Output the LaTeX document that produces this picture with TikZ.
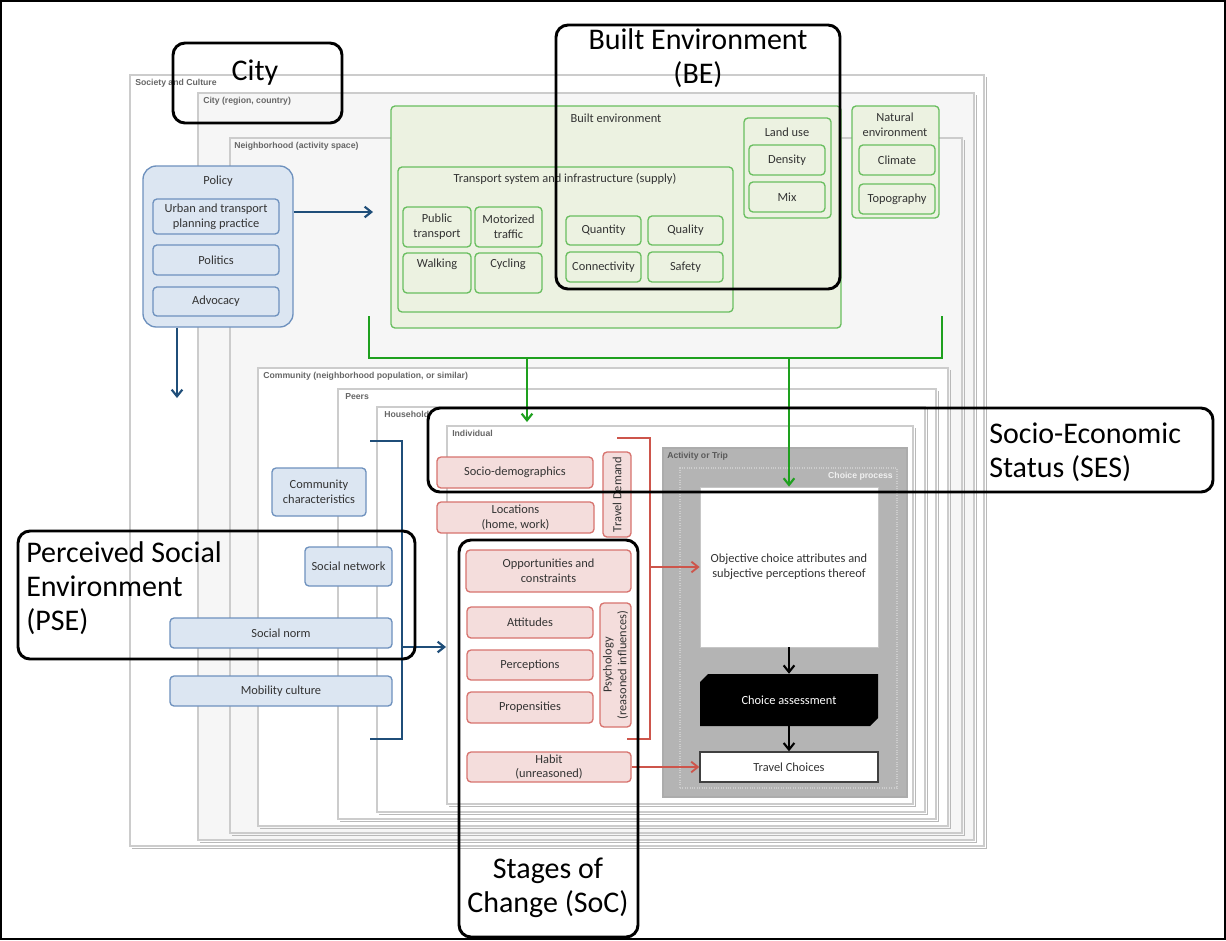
\documentclass[tikz,border=0pt]{standalone}
\usepackage{fontspec}
\setmainfont{Carlito}
\newfontfamily\lblfont{Liberation Sans}
\usetikzlibrary{arrows.meta,fit}
\definecolor{gborder}{RGB}{105,190,95}
\definecolor{gfill}{RGB}{236,242,225}
\definecolor{garrow}{RGB}{30,160,30}
\definecolor{bborder}{RGB}{110,145,190}
\definecolor{bfill}{RGB}{220,230,242}
\definecolor{barrowc}{RGB}{31,78,121}
\definecolor{rborder}{RGB}{215,115,110}
\definecolor{rfill}{RGB}{244,221,220}
\definecolor{rline}{RGB}{205,85,75}
\definecolor{actgray}{RGB}{180,180,180}
\definecolor{cpline}{RGB}{205,205,205}
\tikzset{
  frame/.style={draw=gray!40, line width=0.8pt, inner sep=0pt},
  fshadow/.style={draw=gray!55, line width=0.8pt},
  flabel/.style={font=\lblfont\bfseries\fontsize{6.5}{7.5}\selectfont, text=black!60, anchor=north west, inner sep=0pt},
  boxtext/.style={font=\fontsize{9.3}{11}\selectfont, text=black!80, align=center},
  gbox/.style={boxtext, draw=gborder, fill=gfill, line width=1pt, rounded corners=3pt, inner sep=0pt},
  bbox/.style={boxtext, draw=bborder, fill=bfill, line width=1pt, rounded corners=3pt, inner sep=0pt},
  rbox/.style={boxtext, draw=rborder, fill=rfill, line width=1pt, rounded corners=3pt, inner sep=0pt},
  plain/.style={boxtext, inner sep=0pt},
  annot/.style={draw=black, line width=2.2pt, rounded corners=9pt, inner sep=0pt},
  atext/.style={font=\fontsize{22.5}{25.5}\selectfont, inner sep=0pt},
  garr/.style={draw=garrow, line width=1.6pt},
  garrow/.style={garr, -{Straight Barb[length=5pt,width=8pt]}},
  blln/.style={draw=barrowc, line width=1.6pt},
  blarrow/.style={blln, -{Straight Barb[length=5pt,width=8pt]}},
  rdln/.style={draw=rline, line width=1.4pt},
  rdarrow/.style={rdln, -{Straight Barb[length=5pt,width=8pt]}},
  bkarrow/.style={draw=black, line width=1.6pt, -{Straight Barb[length=5pt,width=8pt]}},
}
\begin{document}
\begin{tikzpicture}[x=0.75pt,y=-0.75pt]
\useasboundingbox (0,0) rectangle (1226,940);
\draw[black, line width=0.8pt] (1,1) rectangle (1225,939);

% nested frames
\node[frame, fill=white, fit={(130,75)(984,846)}] (soc) {};
\draw[fshadow] ([shift={(2,3)}]soc.north east) |- ([shift={(3,2)}]soc.south west);
\node[flabel] (socL) at (135,79) {Society and Culture};
\node[frame, fill=gray!7, fit={(198,93)(974,840)}] (city) {};
\draw[fshadow] ([shift={(2,3)}]city.north east) |- ([shift={(3,2)}]city.south west);
\node[flabel] (cityL) at (203,97) {City (region, country)};
\node[frame, fill=gray!7, fit={(230,138)(962,833)}] (nbh) {};
\draw[fshadow] ([shift={(2,3)}]nbh.north east) |- ([shift={(3,2)}]nbh.south west);
\node[flabel] (nbhL) at (234,142) {Neighborhood (activity space)};
\node[frame, fill=white, fit={(258,368)(948,826)}] (com) {};
\draw[fshadow] ([shift={(2,3)}]com.north east) |- ([shift={(3,2)}]com.south west);
\node[flabel] (comL) at (263,372) {Community (neighborhood population, or similar)};
\node[frame, fill=white, fit={(338,389)(936,819)}] (peer) {};
\draw[fshadow] ([shift={(2,3)}]peer.north east) |- ([shift={(3,2)}]peer.south west);
\node[flabel] (peerL) at (345,393) {Peers};
\node[frame, fill=white, fit={(377,407)(925,812)}] (hh) {};
\draw[fshadow] ([shift={(2,3)}]hh.north east) |- ([shift={(3,2)}]hh.south west);
\node[flabel] (hhL) at (384,411) {Household};
\node[frame, fill=white, fit={(447,426)(913,804)}] (ind) {};
\draw[fshadow] ([shift={(2,3)}]ind.north east) |- ([shift={(3,2)}]ind.south west);
\node[flabel] (indL) at (452,430) {Individual};

% activity or trip
\node[draw=gray!65, fill=actgray, line width=0.8pt, inner sep=0pt, fit={(663,448)(907,797)}] (act) {};
\node[flabel, text=black!65] (actL) at (667,452) {Activity or Trip};
\node[draw=cpline, densely dotted, line width=0.8pt, inner sep=0pt, fit={(680,468)(897,788)}] (cp) {};
\node[flabel, anchor=north east, text=gray!12] (cpL) at (893,472) {Choice process};
\node[plain, fill=white, draw=gray!45, line width=0.6pt, fit={(700,487)(878,647)}] (obj) {};
\node[plain] (objT) at (obj.center) {Objective choice attributes and\\subjective perceptions thereof};
\fill[black] (708,674) -- (878,674) -- (878,718) -- (870,726) -- (700,726) -- (700,682) -- cycle;
\node[plain, text=white, fit={(700,674)(878,726)}] (ca) {};
\node[plain, text=white] (caT) at (ca.center) {Choice assessment};
\node[plain, fill=white, draw=black!75, line width=1pt, fit={(700,752)(878,782)}] (tc) {};
\node[plain] (tcT) at (tc.center) {Travel Choices};
\draw[bkarrow] (obj.south) -- (ca.north);
\draw[bkarrow] (ca.south) -- (tc.north);

% built environment
\node[gbox, fit={(391,106)(841,328)}] (be) {};
\node[plain] (beT) at (616,118) {Built environment};
\node[gbox, fit={(398,167)(733,312)}] (ts) {};
\node[plain] (tsT) at (565,179) {Transport system and infrastructure (supply)};
\node[gbox, fit={(403,207)(471,247)}] (pt) {};
\node[plain] (ptT) at (pt.center) {Public\\transport};
\node[gbox, fit={(475,207)(542,247)}] (mt) {};
\node[plain] (mtT) at (mt.center) {Motorized\\traffic};
\node[gbox, fit={(403,253)(471,293)}] (wk) {};
\node[plain] (wkT) at (437,264) {Walking};
\node[gbox, fit={(475,253)(542,293)}] (cy) {};
\node[plain] (cyT) at (508,264) {Cycling};
\node[gbox, fit={(566,216)(641,245)}] (qn) {};
\node[plain] (qnT) at (qn.center) {Quantity};
\node[gbox, fit={(648,216)(723,245)}] (ql) {};
\node[plain] (qlT) at (ql.center) {Quality};
\node[gbox, fit={(566,252)(641,282)}] (cn) {};
\node[plain] (cnT) at (cn.center) {Connectivity};
\node[gbox, fit={(648,252)(723,282)}] (sf) {};
\node[plain] (sfT) at (sf.center) {Safety};
\node[gbox, fit={(744,118)(831,218)}] (lu) {};
\node[plain] (luT) at (787,132) {Land use};
\node[gbox, fit={(749,145)(825,175)}] (dn) {};
\node[plain] (dnT) at (dn.center) {Density};
\node[gbox, fit={(749,182)(825,212)}] (mx) {};
\node[plain] (mxT) at (mx.center) {Mix};
\node[gbox, fit={(852,106)(939,218)}] (ne) {};
\node[plain] (neT) at (895,125) {Natural\\environment};
\node[gbox, fit={(859,145)(935,175)}] (cl) {};
\node[plain] (clT) at (cl.center) {Climate};
\node[gbox, fit={(859,184)(935,214)}] (tp) {};
\node[plain] (tpT) at (tp.center) {Topography};

% policy
\node[bbox, rounded corners=10pt, fit={(143,166)(293,327)}] (pol) {};
\node[plain] (polT) at (218,181) {Policy};
\node[bbox, fit={(153,199)(279,234)}] (urb) {};
\node[plain] (urbT) at (urb.center) {Urban and transport\\planning practice};
\node[bbox, fit={(153,245)(279,275)}] (plt) {};
\node[plain] (pltT) at (plt.center) {Politics};
\node[bbox, fit={(153,287)(279,316)}] (adv) {};
\node[plain] (advT) at (adv.center) {Advocacy};
\coordinate (polR) at (373,212);
\coordinate (polD) at (177,398);
\draw[blarrow] (pol.east |- polR) -- (polR);
\draw[blarrow] (pol.south -| polD) -- (polD);

% social boxes
\node[bbox, fit={(272,468)(366,516)}] (cc) {};
\node[plain] (ccT) at (cc.center) {Community\\characteristics};
\node[bbox, fit={(305,547)(392,586)}] (sn) {};
\node[plain] (snT) at (sn.center) {Social network};
\node[bbox, fit={(170,618)(392,648)}] (nrm) {};
\node[plain] (nrmT) at (nrm.center) {Social norm};
\node[bbox, fit={(170,676)(392,706)}] (mob) {};
\node[plain] (mobT) at (mob.center) {Mobility culture};
\coordinate (bb1) at (370,441);
\coordinate (bb2) at (402,441);
\coordinate (bb3) at (402,739);
\coordinate (bb4) at (370,739);
\coordinate (bbm) at (402,647);
\coordinate (bbt) at (446,647);
\draw[blln] (bb1) -- (bb2) -- (bb3) -- (bb4);
\draw[blarrow] (bbm) -- (bbt);

% individual boxes
\node[rbox, fit={(437,457)(593,488)}] (sd) {};
\node[plain] (sdT) at (sd.center) {Socio-demographics};
\node[rbox, fit={(437,502)(594,533)}] (loc) {};
\node[plain] (locT) at (loc.center) {Locations\\(home, work)};
\node[rbox, fit={(603,452)(631,537)}] (td) {};
\node[plain, rotate=90] (tdT) at (td.center) {Travel Demand};
\node[rbox, fit={(466,550)(631,592)}] (opp) {};
\node[plain] (oppT) at (opp.center) {Opportunities and\\constraints};
\node[rbox, fit={(467,607)(593,638)}] (att) {};
\node[plain] (attT) at (att.center) {Attitudes};
\node[rbox, fit={(467,650)(593,680)}] (per) {};
\node[plain] (perT) at (per.center) {Perceptions};
\node[rbox, fit={(467,692)(593,723)}] (prp) {};
\node[plain] (prpT) at (prp.center) {Propensities};
\node[rbox, fit={(600,603)(631,727)}] (psy) {};
\node[plain, rotate=90] (psyT) at (psy.center) {Psychology\\(reasoned influences)};
\node[rbox, fit={(467,752)(631,782)}] (hab) {};
\node[plain] (habT) at (hab.center) {Habit\\(unreasoned)};
\coordinate (rb1) at (617,438);
\coordinate (rb2) at (650,438);
\coordinate (rb3) at (650,739);
\coordinate (rb4) at (627,739);
\coordinate (rbm) at (650,567);
\draw[rdln] (rb1) -- (rb2) -- (rb3) -- (rb4);
\draw[rdarrow] (rbm) -- (obj.west |- rbm);
\draw[rdarrow] (hab.east) -- (tc.west);

% green connectors
\coordinate (gl1) at (369,316);
\coordinate (gl2) at (369,358);
\coordinate (gr1) at (942,316);
\coordinate (gr2) at (942,358);
\coordinate (ga1) at (527,358);
\coordinate (ga2) at (527,422);
\coordinate (gb1) at (789,358);
\draw[garr] (gl1) -- (gl2) -- (gr2) -- (gr1);
\draw[garrow] (ga1) -- (ga2);
\draw[garrow] (gb1) -- (obj.north);

% annotation boxes
\node[annot, fit={(173,43)(342,123)}] (aCity) {};
\node[atext] (aCityT) at (255,73) {City};
\node[annot, fit={(556,25)(840,289)}] (aBE) {};
\node[atext, align=center, anchor=north] (aBET) at (698,28) {Built Environment\\(BE)};
\node[annot, fit={(428,408)(1213,492)}] (aSES) {};
\node[atext, align=left, anchor=west] (aSEST) at (989,452) {Socio-Economic\\Status (SES)};
\node[annot, fit={(18,531)(415,659)}] (aPSE) {};
\node[atext, align=left, anchor=north west] (aPSET) at (26,541) {Perceived Social\\Environment\\(PSE)};
\node[annot, fit={(459,540)(638,937)}] (aSoC) {};
\node[atext, align=center, anchor=north] (aSoCT) at (548,858) {Stages of\\Change (SoC)};
\end{tikzpicture}
\end{document}
